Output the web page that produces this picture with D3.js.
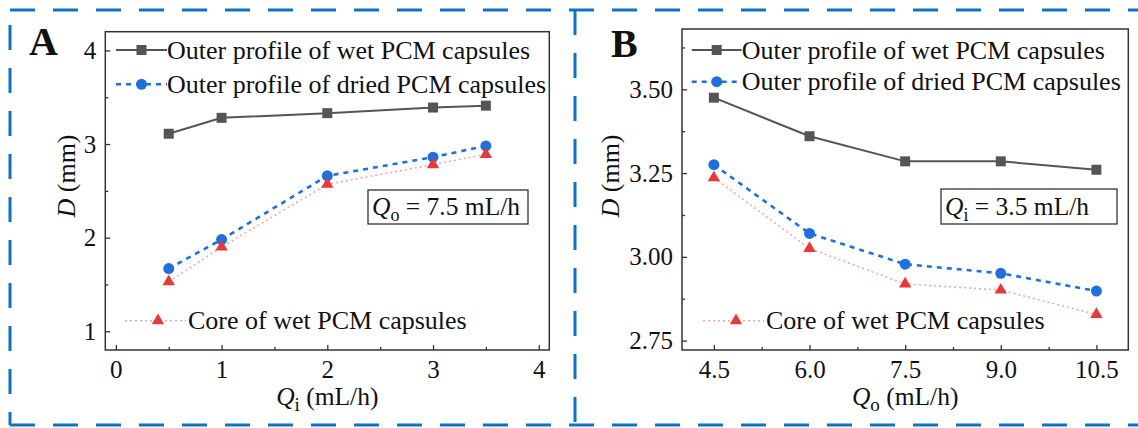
<!DOCTYPE html>
<html>
<head>
<meta charset="utf-8">
<script src="https://cdn.jsdelivr.net/npm/d3@7"></script>
<style>
  body { margin: 0; background: #fff; }
  svg text { font-family: "Liberation Serif", "Times New Roman", serif; fill: #111; }
</style>
</head>
<body>
<script>
// --- Data ---
const seriesNames = ["Outer profile of wet PCM capsules", "Outer profile of dried PCM capsules", "Core of wet PCM capsules"];

// Panel A: D vs inner flow rate Qi (Qo = 7.5 mL/h)
const qiValues = [0.5, 1, 2, 3, 3.5];
const wetA = [3.11, 3.28, 3.33, 3.39, 3.41];
const driedA = [1.67, 1.98, 2.66, 2.86, 2.98];
const coreA = [1.53, 1.90, 2.57, 2.78, 2.89];
const xTicksA = [0, 1, 2, 3, 4];
const yTicksA = [1, 2, 3, 4];

// Panel B: D vs outer flow rate Qo (Qi = 3.5 mL/h)
const qoValues = [4.5, 6.0, 7.5, 9.0, 10.5];
const wetB = [3.475, 3.36, 3.285, 3.285, 3.26];
const driedB = [3.275, 3.07, 2.978, 2.951, 2.898];
const coreB = [3.236, 3.025, 2.919, 2.901, 2.828];
const xTicksB = [4.5, 6.0, 7.5, 9.0, 10.5];
const yTicksB = [2.75, 3.00, 3.25, 3.50];

const W = 1138, H = 428;
const svg = d3.select("body").append("svg").attr("width", W).attr("height", H);

// --- Dashed blue frame around the two panels ---
const frameBlue = "#0f72c8";
const dashed = [
  [10, 10, 1138, 10], [10, 425, 1138, 425],
  [10, 25, 10, 425], [575, 10, 575, 425]
];
svg.selectAll(".outer-dash").data(dashed).join("line")
  .attr("class", "outer-dash")
  .attr("x1", d => d[0]).attr("y1", d => d[1])
  .attr("x2", d => d[2]).attr("y2", d => d[3])
  .attr("stroke", frameBlue).attr("stroke-width", 3)
  .attr("stroke-dasharray", "25 18");

const wetColor = "#555555", driedColor = "#1f6fdc", coreColor = "#e8383a", corePink = "#f2a7a7";

function drawPanel(o) {
  const x = d3.scaleLinear().domain(o.xDomain).range([o.left, o.right]);
  const y = d3.scaleLinear().domain(o.yDomain).range([o.bottom, o.top]);
  const g = svg.append("g");

  // minor ticks (inward)
  g.append("g").attr("transform", `translate(0,${o.bottom})`)
    .call(d3.axisBottom(x).tickValues(o.xMinor).tickSize(-3).tickFormat(""));
  g.append("g").attr("transform", `translate(${o.left},0)`)
    .call(d3.axisLeft(y).tickValues(o.yMinor).tickSize(-3).tickFormat(""));

  // major ticks with labels
  const xa = g.append("g").attr("transform", `translate(0,${o.bottom})`)
    .call(d3.axisBottom(x).tickValues(o.xTicks).tickSize(-5).tickPadding(11).tickFormat(o.xFmt));
  const ya = g.append("g").attr("transform", `translate(${o.left},0)`)
    .call(d3.axisLeft(y).tickValues(o.yTicks).tickSize(-5).tickPadding(9).tickFormat(o.yFmt));
  g.selectAll(".domain").remove();
  g.selectAll(".tick line").attr("stroke", "#333").attr("stroke-width", 1.3);
  g.selectAll(".tick text").style("font-size", "25px").attr("fill", "#111")
    .style("font-family", "'Liberation Serif', 'Times New Roman', serif");
  xa.selectAll(".tick text").attr("dy", "0.68em");

  // plot frame
  g.append("rect")
    .attr("x", o.left).attr("y", o.top)
    .attr("width", o.right - o.left).attr("height", o.bottom - o.top)
    .attr("fill", "none").attr("stroke", "#333").attr("stroke-width", 1.5);

  const line = d3.line().x(d => x(d[0])).y(d => y(d[1]));
  const pts = vals => o.xs.map((v, i) => [v, vals[i]]);

  // series lines
  g.append("path").datum(pts(o.core)).attr("d", line)
    .attr("fill", "none").attr("stroke", corePink).attr("stroke-width", 1.6).attr("stroke-dasharray", "2 3");
  g.append("path").datum(pts(o.wet)).attr("d", line)
    .attr("fill", "none").attr("stroke", wetColor).attr("stroke-width", 2);
  g.append("path").datum(pts(o.dried)).attr("d", line)
    .attr("fill", "none").attr("stroke", driedColor).attr("stroke-width", 2.6).attr("stroke-dasharray", "5 5");

  // markers
  const sq = d3.symbol(d3.symbolSquare, 100);
  const ci = d3.symbol(d3.symbolCircle, 95);
  const tri = d3.symbol(d3.symbolTriangle, 66);
  g.selectAll(".m-wet").data(pts(o.wet)).join("path").attr("class", "m-wet")
    .attr("d", sq).attr("fill", wetColor)
    .attr("transform", d => `translate(${x(d[0])},${y(d[1])})`);
  g.selectAll(".m-dried").data(pts(o.dried)).join("path").attr("class", "m-dried")
    .attr("d", ci).attr("fill", driedColor)
    .attr("transform", d => `translate(${x(d[0])},${y(d[1])})`);
  g.selectAll(".m-core").data(pts(o.core)).join("path").attr("class", "m-core")
    .attr("d", tri).attr("fill", coreColor)
    .attr("transform", d => `translate(${x(d[0])},${y(d[1])})`);

  // legend (rows 1-2 at the top, row 3 near the bottom)
  const lg = o.legend;
  g.append("line").attr("x1", lg.x0).attr("x2", lg.x1).attr("y1", lg.y1).attr("y2", lg.y1)
    .attr("stroke", wetColor).attr("stroke-width", 2);
  g.append("path").attr("d", sq).attr("fill", wetColor)
    .attr("transform", `translate(${(lg.x0 + lg.x1) / 2},${lg.y1})`);
  g.append("line").attr("x1", lg.x0).attr("x2", lg.x1).attr("y1", lg.y2).attr("y2", lg.y2)
    .attr("stroke", driedColor).attr("stroke-width", 2.6).attr("stroke-dasharray", "5 5");
  g.append("path").attr("d", ci).attr("fill", driedColor)
    .attr("transform", `translate(${(lg.x0 + lg.x1) / 2},${lg.y2})`);
  g.append("line").attr("x1", lg.tx - 33).attr("x2", lg.tx + 28).attr("y1", lg.y3).attr("y2", lg.y3)
    .attr("stroke", corePink).attr("stroke-width", 1.6).attr("stroke-dasharray", "2 3");
  g.append("path").attr("d", tri).attr("fill", coreColor)
    .attr("transform", `translate(${lg.tx},${lg.y3})`);

  [[lg.x1, lg.y1, seriesNames[0]], [lg.x1, lg.y2, seriesNames[1]], [lg.tx + 30, lg.y3, seriesNames[2]]]
    .forEach(([tx, ty, s]) => {
      g.append("text").attr("x", tx).attr("y", ty).attr("dy", "0.33em")
        .style("font-size", "26px").text(s);
    });

  // condition box
  const b = o.box;
  g.append("rect").attr("x", b.x0).attr("y", b.y0).attr("width", b.x1 - b.x0).attr("height", b.y1 - b.y0)
    .attr("fill", "#fff").attr("stroke", "#333").attr("stroke-width", 1.3);
  const bt = g.append("text").attr("x", b.x0 + 4).attr("y", b.y1 - 9).style("font-size", "25.5px");
  bt.append("tspan").style("font-style", "italic").text("Q");
  bt.append("tspan").attr("dy", 6).style("font-size", "18px").text(b.sub);
  bt.append("tspan").attr("dy", -6).text(b.rest);

  // panel letter
  g.append("text").attr("x", o.letterX).attr("y", o.letterY)
    .style("font-size", "40px").style("font-weight", "bold").text(o.letter);

  // axis titles
  const xt = g.append("text").attr("x", (o.left + o.right) / 2).attr("y", 405)
    .attr("text-anchor", "middle").style("font-size", "25.5px");
  xt.append("tspan").style("font-style", "italic").text("Q");
  xt.append("tspan").attr("dy", 6).style("font-size", "19px").text(o.xSub);
  xt.append("tspan").attr("dy", -6).text(" (mL/h)");

  const yt = g.append("text").attr("transform", `translate(${o.yTitleX},176) rotate(-90)`)
    .attr("text-anchor", "middle").style("font-size", "26px");
  yt.append("tspan").style("font-style", "italic").text("D");
  yt.append("tspan").text(" (mm)");
}

drawPanel({
  letter: "A", letterX: 29, letterY: 55,
  left: 105.3, right: 549.3, top: 31.7, bottom: 350,
  xDomain: [-0.1, 4.1], yDomain: [0.8, 4.2],
  xTicks: xTicksA, yTicks: yTicksA,
  xMinor: [0.5, 1.5, 2.5, 3.5], yMinor: [1.5, 2.5, 3.5],
  xFmt: d3.format("d"), yFmt: d3.format("d"),
  xs: qiValues, wet: wetA, dried: driedA, core: coreA,
  legend: { x0: 116, x1: 167, y1: 50, y2: 84.3, y3: 320.7, tx: 158 },
  box: { x0: 368, x1: 528, y0: 190, y1: 224, sub: "o", rest: " = 7.5 mL/h" },
  xSub: "i", yTitleX: 75
});

drawPanel({
  letter: "B", letterX: 611, letterY: 57,
  left: 682, right: 1128.3, top: 29, bottom: 350,
  xDomain: [4.0, 11.0], yDomain: [2.722, 3.68],
  xTicks: xTicksB, yTicks: yTicksB,
  xMinor: [5.25, 6.75, 8.25, 9.75], yMinor: [2.875, 3.125, 3.375, 3.625],
  xFmt: d3.format(".1f"), yFmt: d3.format(".2f"),
  xs: qoValues, wet: wetB, dried: driedB, core: coreB,
  legend: { x0: 691.7, x1: 741.7, y1: 50, y2: 81.7, y3: 320.7, tx: 736 },
  box: { x0: 941, x1: 1117, y0: 189, y1: 224, sub: "i", rest: " = 3.5 mL/h" },
  xSub: "o", yTitleX: 619
});
</script>
</body>
</html>
